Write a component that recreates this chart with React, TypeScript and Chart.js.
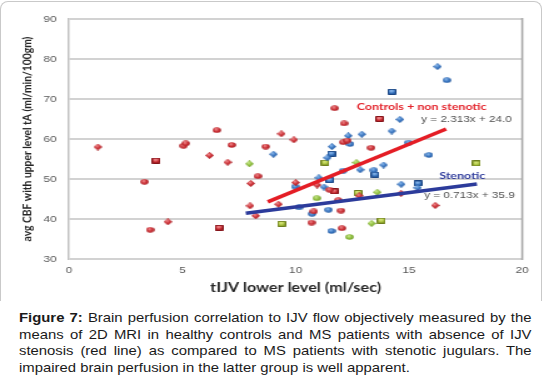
import React, { useEffect, useRef } from "react";
import { Chart, registerables } from "chart.js";
Chart.register(...registerables);

// ---- data ----
const xTickValues = [0, 5, 10, 15, 20];
const yTickValues = [30, 40, 50, 60, 70, 80, 90];

const redCircleX = [3.33, 3.58, 5.05, 5.15, 6.52, 7.18, 8.33, 8.68, 11.72, 12.14, 12.1, 12.28, 13.33, 11.5, 11.88, 12.0, 10.8, 10.7, 12.04];
const redCircleY = [49.3, 37.3, 58.3, 58.9, 62.2, 58.5, 50.7, 58.1, 67.7, 63.9, 59.2, 59.6, 57.8, 47.3, 44.7, 42.1, 41.9, 39.1, 37.7];

const redDiamondX = [1.27, 4.36, 6.2, 7.0, 8.02, 7.99, 8.24, 9.37, 9.92, 10.0, 10.95, 9.24, 16.16, 14.65, 12.8];
const redDiamondY = [58.0, 39.3, 55.9, 54.2, 48.9, 43.3, 40.8, 61.3, 59.8, 49.1, 48.5, 43.7, 43.4, 46.4, 45.8];

const redSquareX = [3.84, 6.62, 13.7, 11.7];
const redSquareY = [54.6, 37.8, 65.0, 46.9];

const blueDiamondX = [9.02, 11.6, 12.32, 12.92, 14.24, 14.6, 16.26, 11.4, 12.85, 11.02, 11.25, 14.66, 15.38, 13.88];
const blueDiamondY = [56.2, 58.1, 60.8, 61.2, 62.0, 64.9, 78.1, 55.3, 52.3, 50.3, 48.0, 48.7, 47.8, 53.5];

const blueCircleX = [16.67, 12.4, 14.98, 15.88, 12.1, 13.45, 9.98, 10.72, 11.45, 11.58, 10.15];
const blueCircleY = [74.7, 58.75, 59.1, 56.0, 52.1, 52.2, 48.1, 41.3, 42.3, 37.0, 42.9];

const blueSquareX = [14.25, 11.58, 13.5, 11.5, 15.4];
const blueSquareY = [71.8, 56.3, 51.1, 49.7, 48.9];

const greenDiamondX = [7.96, 12.68, 13.6, 13.35];
const greenDiamondY = [53.8, 54.1, 46.7, 38.9];

const greenCircleX = [10.93, 12.38];
const greenCircleY = [45.2, 35.5];

const greenSquareX = [11.3, 12.75, 9.38, 13.78, 17.98];
const greenSquareY = [54.1, 46.5, 38.8, 39.6, 53.9];

const redFitX = [8.77, 16.64];
const redFitY = [44.3, 62.5];
const blueFitX = [7.8, 18.0];
const blueFitY = [41.45, 48.75];

const noteTexts = ["Controls + non stenotic", "y = 2.313x + 24.0", "Stenotic", "y = 0.713x + 35.9"];
const noteX = [15.56, 15.54, 17.35, 15.67];
const noteY = [68.1, 65.0, 50.8, 46.0];

const xTitle = "tIJV lower level (ml/sec)";
const yTitle = "avg CBF with upper level tA (ml/min/100gm)";

const captionLines = [
  "Brain perfusion correlation to IJV flow objectively measured  by the",
  "means of 2D MRI in healthy controls and MS patients with absence of IJV",
  "stenosis (red line) as compared to MS patients with stenotic jugulars. The",
  "impaired brain perfusion in the latter group is well apparent.",
];

// ---- styling ----
const STRETCH = 1.25;
const CANVAS_W = Math.round(544 / STRETCH);
const CANVAS_H = 300;

function makeMarker(shape: string, light: string, mid: string, dark: string, w: number, h: number) {
  const c = document.createElement("canvas");
  c.width = w;
  c.height = h;
  const ctx = c.getContext("2d")!;
  const g = ctx.createRadialGradient(w * 0.4, h * 0.35, 0.2, w / 2, h / 2, Math.max(w, h) * 0.65);
  g.addColorStop(0, light);
  g.addColorStop(0.45, mid);
  g.addColorStop(1, dark);
  ctx.fillStyle = g;
  ctx.beginPath();
  if (shape === "circle") {
    ctx.ellipse(w / 2, h / 2, w / 2 - 0.2, h / 2 - 0.2, 0, 0, Math.PI * 2);
    ctx.fill();
  } else if (shape === "diamond") {
    ctx.moveTo(w / 2, 0);
    ctx.lineTo(w, h / 2);
    ctx.lineTo(w / 2, h);
    ctx.lineTo(0, h / 2);
    ctx.closePath();
    ctx.fill();
  } else {
    ctx.rect(0.5, 0.5, w - 1, h - 1);
    ctx.fill();
    ctx.strokeStyle = dark;
    ctx.lineWidth = 1;
    ctx.stroke();
    ctx.fillStyle = light;
    ctx.fillRect(1.5, 1.5, w - 3, 1);
  }
  return c;
}

function pts(xs: number[], ys: number[]) {
  return xs.map((x, i) => ({ x, y: ys[i] }));
}

export default function App() {
  const ref = useRef<HTMLCanvasElement | null>(null);

  useEffect(() => {
    document.body.style.margin = "0";
    const canvas = ref.current!;
    const RED = ["#f08a8d", "#c82a30", "#85141a"];
    const BLUE = ["#8ab8ec", "#3471bd", "#1c4784"];
    const GREEN = ["#c8e889", "#8cbb3c", "#5a8520"];
    const GSQ = ["#d8e67c", "#a8c23c", "#6e7f1e"];

    const mk = (label: string, xs: number[], ys: number[], style: any) => ({
      label,
      data: pts(xs, ys),
      pointStyle: style,
      pointRadius: 4,
      pointHoverRadius: 4,
      showLine: false,
      order: 2,
    });

    const fit = (label: string, xs: number[], ys: number[], color: string) => ({
      label,
      data: pts(xs, ys),
      showLine: true,
      borderColor: color,
      backgroundColor: color,
      borderWidth: 3.6,
      pointRadius: 0,
      fill: false,
      order: 0,
    });

    const frame = {
      id: "frame",
      afterDatasetsDraw(chart: any) {
        const { ctx, chartArea, scales } = chart;
        ctx.save();
        ctx.strokeStyle = "#a9a9a9";
        ctx.lineWidth = 1.6;
        ctx.beginPath();
        ctx.moveTo(chartArea.right, chartArea.top - 1);
        ctx.lineTo(chartArea.right, chartArea.bottom + 1);
        ctx.stroke();
        ctx.textBaseline = "middle";
        noteTexts.forEach((t, i) => {
          const px = scales.x.getPixelForValue(noteX[i]);
          const py = scales.y.getPixelForValue(noteY[i]);
          if (i === 0) {
            ctx.font = "bold 10px Lato, 'Liberation Sans', sans-serif";
            ctx.fillStyle = "#e3232b";
            ctx.textAlign = "center";
          } else if (i === 2) {
            ctx.font = "bold 10px Lato, 'Liberation Sans', sans-serif";
            ctx.fillStyle = "#2f3c9c";
            ctx.textAlign = "center";
          } else {
            ctx.font = "9.4px 'Liberation Sans', Arial, sans-serif";
            ctx.fillStyle = "#505050";
            ctx.textAlign = "left";
          }
          ctx.fillText(t, px, py);
        });
        ctx.restore();
      },
    };

    const chart = new Chart(canvas, {
      type: "scatter",
      data: {
        datasets: [
          fit("Controls + non stenotic fit", redFitX, redFitY, "#e41d25"),
          fit("Stenotic fit", blueFitX, blueFitY, "#2c3b9b"),
          mk("Red circles", redCircleX, redCircleY, makeMarker("circle", RED[0], RED[1], RED[2], 7, 6)),
          mk("Red diamonds", redDiamondX, redDiamondY, makeMarker("diamond", RED[0], RED[1], RED[2], 7, 7)),
          mk("Red squares", redSquareX, redSquareY, makeMarker("square", RED[0], RED[1], RED[2], 7, 6)),
          mk("Blue diamonds", blueDiamondX, blueDiamondY, makeMarker("diamond", BLUE[0], BLUE[1], BLUE[2], 7, 7)),
          mk("Blue circles", blueCircleX, blueCircleY, makeMarker("circle", BLUE[0], BLUE[1], BLUE[2], 7, 6)),
          mk("Blue squares", blueSquareX, blueSquareY, makeMarker("square", BLUE[0], BLUE[1], BLUE[2], 7, 6)),
          mk("Green diamonds", greenDiamondX, greenDiamondY, makeMarker("diamond", GREEN[0], GREEN[1], GREEN[2], 7, 7)),
          mk("Green circles", greenCircleX, greenCircleY, makeMarker("circle", GREEN[0], GREEN[1], GREEN[2], 7, 6)),
          mk("Green squares", greenSquareX, greenSquareY, makeMarker("square", GSQ[0], GSQ[1], GSQ[2], 7, 6)),
        ] as any,
      },
      options: {
        animation: false,
        responsive: false,
        devicePixelRatio: 1,
        events: [],
        layout: { padding: { top: 19, right: CANVAS_W - 522 / STRETCH, bottom: 0, left: 0 } },
        plugins: { legend: { display: false }, tooltip: { enabled: false } },
        scales: {
          x: {
            type: "linear",
            min: xTickValues[0],
            max: xTickValues[xTickValues.length - 1],
            afterBuildTicks: (axis: any) => {
              axis.ticks = xTickValues.map((v) => ({ value: v }));
            },
            ticks: {
              font: { family: "'Liberation Sans', Arial, sans-serif", size: 9.5 },
              color: "#595959",
              padding: 6,
              maxRotation: 0,
            },
            grid: { display: false, drawTicks: false },
            border: { display: false },
            title: {
              display: true,
              text: xTitle,
              font: { family: "Lato, 'Liberation Sans', sans-serif", size: 12.9, weight: "bold" },
              color: "#262626",
              padding: { top: 0, bottom: 4.3 },
            },
            afterFit: (axis: any) => {
              axis.height = 41;
            },
          },
          y: {
            type: "linear",
            min: yTickValues[0],
            max: yTickValues[yTickValues.length - 1],
            afterBuildTicks: (axis: any) => {
              axis.ticks = yTickValues.map((v) => ({ value: v }));
            },
            ticks: {
              font: { family: "'Liberation Sans', Arial, sans-serif", size: 9.5 },
              color: "#595959",
              padding: 10,
            },
            grid: { color: "#d2d2d2", lineWidth: 2, drawTicks: false },
            border: { display: true, color: "#c2c2c2", width: 1.5 },
            title: {
              display: true,
              text: yTitle,
              font: { family: "Lato, 'Liberation Sans', sans-serif", size: 10.3, weight: "bold" },
              color: "#262626",
              padding: { top: 15.4, bottom: 0 },
            },
            afterFit: (axis: any) => {
              axis.width = 69 / STRETCH;
            },
          },
        },
      } as any,
      plugins: [frame],
    });
    return () => chart.destroy();
  }, []);

  return (
    <div style={{ position: "absolute", left: 0, top: 0, width: 544, height: 384, background: "#fff", overflow: "hidden" }}>
      <div
        style={{
          position: "absolute",
          left: 0,
          top: 1,
          width: 542,
          height: 300,
          border: "1px solid #c9c9c9",
          borderBottom: "none",
          borderRadius: "8px 8px 0 0",
          boxSizing: "border-box",
        }}
      />
      <canvas
        ref={ref}
        width={CANVAS_W}
        height={CANVAS_H}
        style={{ position: "absolute", left: 0, top: 0, width: 544, height: CANVAS_H, display: "block" }}
      />
      <div
        style={{
          position: "absolute",
          left: 19,
          top: 310,
          width: 410,
          transform: `scaleX(${STRETCH})`,
          transformOrigin: "0 0",
          fontFamily: "'Liberation Sans', Arial, sans-serif",
          fontSize: 11.9,
          lineHeight: "16.67px",
          color: "#1a1a1a",
        }}
      >
        {captionLines.map((line, i) => (
          <div
            key={i}
            style={{
              textAlign: i < captionLines.length - 1 ? "justify" : "left",
              textAlignLast: i < captionLines.length - 1 ? "justify" : "left",
            } as any}
          >
            {i === 0 ? <b>Figure 7: </b> : null}
            {line}
          </div>
        ))}
      </div>
    </div>
  );
}
